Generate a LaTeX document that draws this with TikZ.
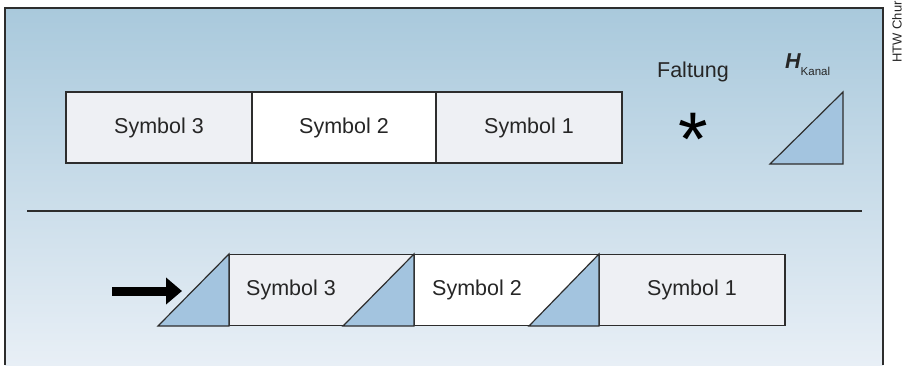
\documentclass[tikz,border=0pt]{standalone}
\usepackage{fontspec}
\setmainfont{Liberation Sans}
\usetikzlibrary{arrows.meta}
\definecolor{bgtop}{RGB}{169,201,220}
\definecolor{bgbot}{RGB}{232,239,246}
\definecolor{boxgray}{RGB}{238,240,244}
\definecolor{trifill}{RGB}{163,196,223}
\definecolor{linec}{RGB}{45,45,45}
\tikzset{
  symbox/.style={draw=linec, line width=1.2pt, minimum height=71pt, inner sep=0pt,
     font=\fontsize{21.5}{21.5}\selectfont, text=black!85},
  chantri/.style={draw=linec, line width=1.2pt, fill=trifill, line join=miter},
  lbl/.style={inner sep=0pt, text=black!85}
}
\begin{document}
\begin{tikzpicture}[x=1pt,y=-1pt]
\useasboundingbox (0,0) rectangle (905,365);
% background panel
\shade[top color=bgtop, bottom color=bgbot] (5,8) rectangle (883,365);
\draw[linec, line width=1.2pt] (5,365) -- (5,8) -- (883,8) -- (883,365);
% rotated label
\node[lbl, rotate=90, font=\fontsize{13}{13}\selectfont, anchor=east] (htw) at (897,1) {HTW Chur};
% top row
\node[symbox, fill=boxgray, minimum width=186pt] (t3) at (159,127.5) {Symbol 3};
\node[symbox, fill=white, minimum width=184pt] (t2) at (344,127.5) {Symbol 2};
\node[symbox, fill=boxgray, minimum width=186pt] (t1) at (529,127.5) {Symbol 1};
\node[lbl, font=\fontsize{21.5}{21.5}\selectfont, anchor=base] (falt) at (693,77) {Faltung};
\node[lbl, font=\fontsize{76}{76}\selectfont, anchor=base, text=black] (star) at (693,165) {*};
\node[lbl, anchor=base west] (hk) at (785,68) {{\fontsize{21.5}{21.5}\selectfont\bfseries\itshape H}\raisebox{-7pt}{\fontsize{11.5}{11.5}\selectfont Kanal}};
\draw[chantri] (770,164) -- (843,164) -- (843,92) -- cycle;
% separator
\coordinate (sepL) at (27,211);
\coordinate (sepR) at (862,211);
\draw[linec, line width=2pt] (sepL) -- (sepR);
% bottom row
\node[symbox, fill=boxgray, minimum width=185pt] (b3) at (321.5,290) {};
\node[symbox, fill=white, minimum width=185pt] (b2) at (506.5,290) {};
\node[symbox, fill=boxgray, minimum width=186pt] (b1) at (692,290) {Symbol 1};
\draw[chantri] (158,326) -- (229,326) -- (229,254) -- cycle;
\draw[chantri] (343,326) -- (414,326) -- (414,254) -- cycle;
\draw[chantri] (529,326) -- (599,326) -- (599,254) -- cycle;
\node[lbl, font=\fontsize{21.5}{21.5}\selectfont] (b3t) at (291,290) {Symbol 3};
\node[lbl, font=\fontsize{21.5}{21.5}\selectfont] (b2t) at (477,290) {Symbol 2};
% arrow
\coordinate (arrS) at (112,291);
\coordinate (arrE) at (182,291);
\draw[line width=9pt, -{Triangle[length=16pt,width=26pt]}] (arrS) -- (arrE);
\end{tikzpicture}
\end{document}
